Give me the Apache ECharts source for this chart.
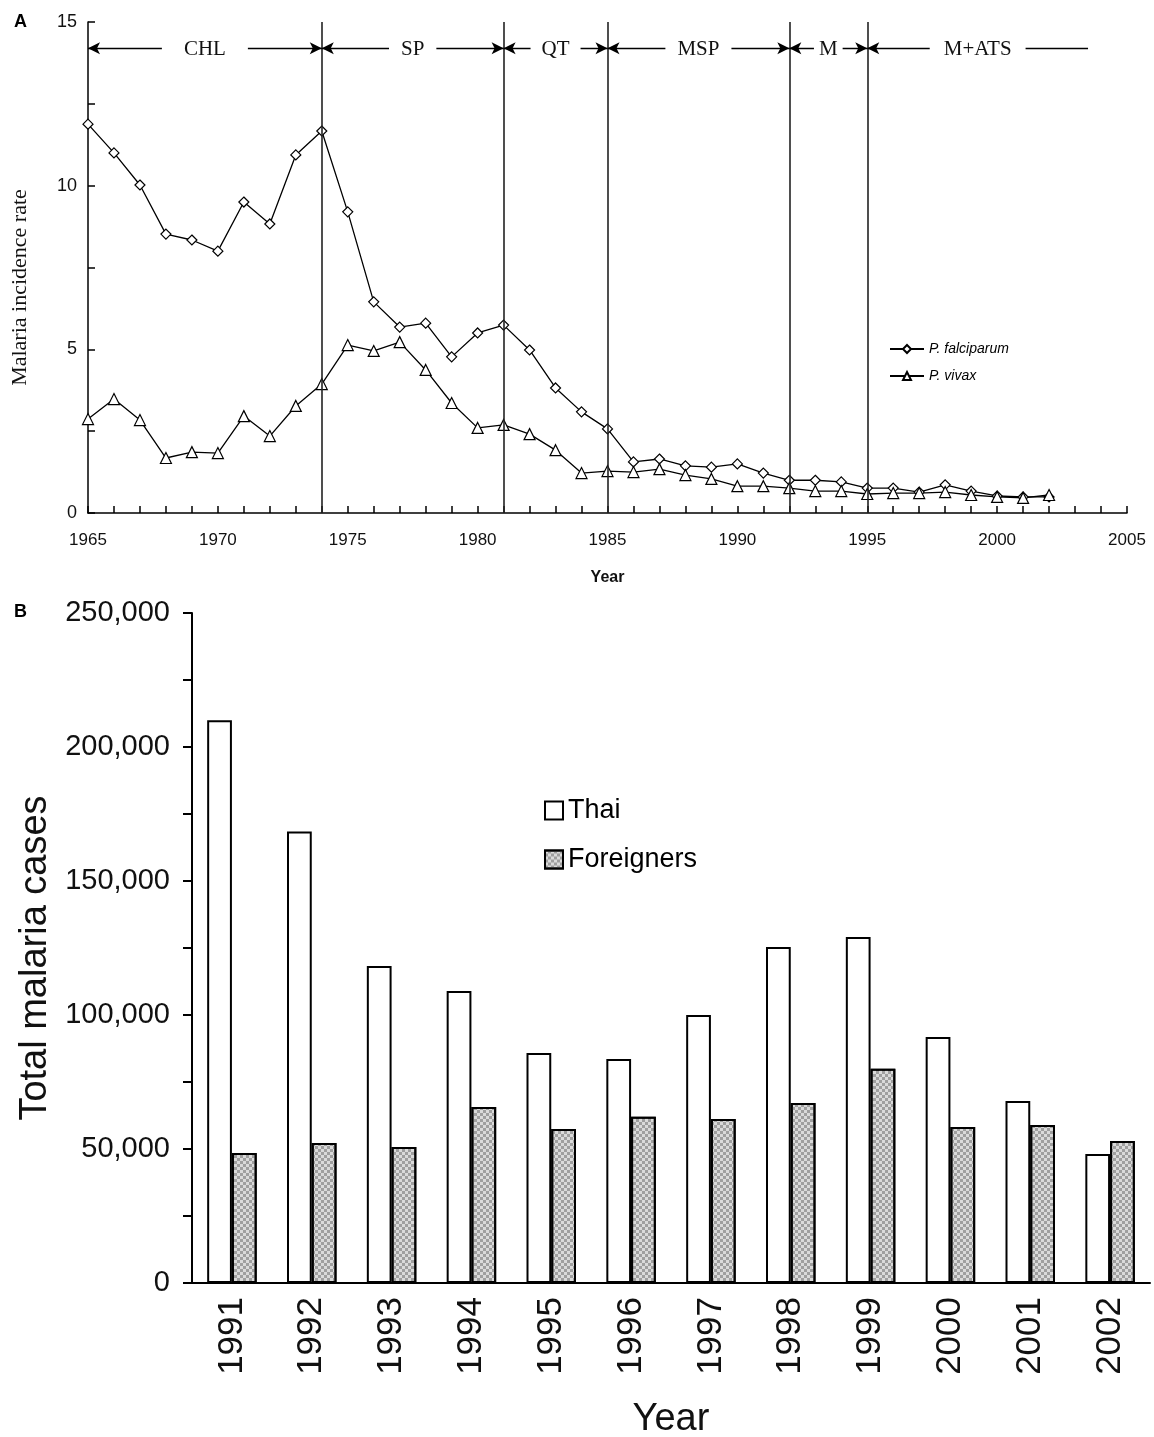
<!DOCTYPE html>
<html>
<head>
    <meta charset="utf-8">
    <title>Malaria incidence and total cases</title>
    <script src="https://cdn.jsdelivr.net/npm/echarts@6/dist/echarts.min.js"></script>
</head>
<body style="margin:0;background:#fff">
<div id="main" style="width:1154px;height:1437px;"></div>
<script type="text/javascript">
    // panel A data (incidence rate per year)
    var years = [1965,1966,1967,1968,1969,1970,1971,1972,1973,1974,1975,1976,1977,1978,1979,1980,1981,1982,1983,
        1984,1985,1986,1987,1988,1989,1990,1991,1992,1993,1994,1995,1996,1997,1998,1999,2000,2001,2002];
    var falciparum = [11.88,11.0,10.02,8.52,8.34,8.0,9.5,8.83,10.94,11.67,9.2,6.45,5.68,5.8,4.77,5.5,5.74,4.98,3.82,
        3.09,2.57,1.56,1.65,1.44,1.4,1.5,1.22,1.0,1.0,0.95,0.76,0.76,0.64,0.86,0.67,0.52,0.49,0.49];
    var vivax = [2.87,3.48,2.84,1.68,1.86,1.83,2.96,2.35,3.27,3.94,5.13,4.95,5.22,4.37,3.36,2.6,2.69,2.41,1.92,
        1.22,1.28,1.25,1.34,1.16,1.04,0.82,0.82,0.76,0.67,0.67,0.58,0.61,0.61,0.64,0.55,0.49,0.46,0.55];
    // drug policy periods
    var periodNames = ['CHL','SP','QT','MSP','M','M+ATS'];
    var periodStart = [1965,1974,1981,1985,1992,1995];
    var periodEnd = [1974,1981,1985,1992,1995,2003.5];
    var policyChanges = [1974,1981,1985,1992,1995];

    // panel B data (total cases)
    var caseYears = ['1991','1992','1993','1994','1995','1996','1997','1998','1999','2000','2001','2002'];
    var thai = [210000,168500,118300,109000,85800,83600,100000,125400,129100,91800,67900,48100];
    var foreigners = [48500,52200,50700,65700,57500,62000,61200,67200,79900,58200,59000,53000];

    var sans = 'Liberation Sans, Arial, sans-serif';
    var serif = 'Liberation Serif, Times New Roman, serif';
    var gapPad = [22, 12, 11, 12, 5, 14]; // white gap around each period label

    var myChart = echarts.init(document.getElementById('main'));

    var periodLines = periodNames.map(function (n, i) {
        var last = i === periodNames.length - 1;
        return [
            {coord: [periodStart[i], 14.2], name: n, symbol: 'arrow', label: {padding: [0, gapPad[i]]}},
            {coord: [periodEnd[i], 14.2], symbol: last ? 'none' : 'arrow'}
        ];
    });
    var changeLines = policyChanges.map(function (y) {
        return [{coord: [y, 0]}, {coord: [y, 15]}];
    });

    myChart.setOption({
        animation: false,
        title: [
            {text: 'A', left: 9, top: 8, textStyle: {fontFamily: sans, fontSize: 18, fontWeight: 'bold', color: '#000'}},
            {text: 'B', left: 9, top: 598, textStyle: {fontFamily: sans, fontSize: 18, fontWeight: 'bold', color: '#000'}}
        ],
        legend: [
            {
                data: ['P. falciparum', 'P. vivax'],
                orient: 'vertical', left: 884, top: 337, itemGap: 13,
                itemWidth: 34, itemHeight: 10,
                textStyle: {fontFamily: sans, fontSize: 14, fontStyle: 'italic', color: '#000'}
            },
            {
                data: ['Thai', 'Foreigners'],
                orient: 'vertical', left: 539, top: 792, itemGap: 22,
                itemWidth: 18, itemHeight: 18, icon: 'rect',
                textStyle: {fontFamily: sans, fontSize: 27, color: '#000'}
            }
        ],
        grid: [
            {left: 88, right: 27, top: 22, height: 491, outerBoundsMode: 'none'},
            {left: 192, right: 4, top: 613, height: 670, outerBoundsMode: 'none'}
        ],
        xAxis: [
            {
                gridIndex: 0, type: 'value', min: 1965, max: 2005, interval: 5,
                axisLine: {lineStyle: {color: '#000', width: 1.5}},
                axisTick: {inside: true, length: 7, lineStyle: {color: '#000', width: 1.5}},
                minorTick: {show: true, splitNumber: 5, length: 7, lineStyle: {color: '#000', width: 1.5}},
                splitLine: {show: false},
                axisLabel: {fontFamily: sans, fontSize: 17, color: '#111', margin: 19,
                    formatter: function (v) { return String(v); }},
                name: 'Year', nameLocation: 'middle', nameGap: 57,
                nameTextStyle: {fontFamily: sans, fontSize: 16, fontWeight: 'bold', color: '#111'}
            },
            {
                gridIndex: 1, type: 'category', data: caseYears,
                axisLine: {lineStyle: {color: '#000', width: 2}},
                axisTick: {length: 9, lineStyle: {color: '#000', width: 2}},
                axisLabel: {fontFamily: sans, fontSize: 35, color: '#111', rotate: 90, margin: 14},
                name: 'Year', nameLocation: 'middle', nameGap: 118,
                nameTextStyle: {fontFamily: sans, fontSize: 38, color: '#111'}
            }
        ],
        yAxis: [
            {
                gridIndex: 0, type: 'value', min: 0, max: 15, interval: 5,
                axisLine: {show: true, lineStyle: {color: '#000', width: 1.5}},
                axisTick: {show: true, inside: true, length: 7, lineStyle: {color: '#000', width: 1.5}},
                minorTick: {show: true, splitNumber: 2, length: 7, lineStyle: {color: '#000', width: 1.5}},
                splitLine: {show: false},
                axisLabel: {fontFamily: sans, fontSize: 18, color: '#111', margin: 11},
                name: 'Malaria incidence rate', nameLocation: 'middle', nameGap: 57,
                nameTextStyle: {fontFamily: serif, fontSize: 22, color: '#111', padding: [0, 40, 0, 0]}
            },
            {
                gridIndex: 1, type: 'value', min: 0, max: 250000, interval: 50000,
                axisLine: {show: true, lineStyle: {color: '#000', width: 2}},
                axisTick: {show: true, length: 9, lineStyle: {color: '#000', width: 2}},
                minorTick: {show: true, splitNumber: 2, length: 9, lineStyle: {color: '#000', width: 2}},
                splitLine: {show: false},
                axisLabel: {
                    fontFamily: sans, fontSize: 29, color: '#111', margin: 22,
                    formatter: function (v) { return v.toLocaleString('en-US'); }
                },
                name: 'Total malaria cases', nameLocation: 'middle', nameGap: 131,
                nameTextStyle: {fontFamily: sans, fontSize: 38, color: '#111', padding: [0, 20, 0, 0]}
            }
        ],
        series: [
            {
                name: 'P. falciparum', type: 'line', xAxisIndex: 0, yAxisIndex: 0,
                data: years.map(function (y, i) { return [y, falciparum[i]]; }),
                symbol: 'diamond', symbolSize: 10, showAllSymbol: true,
                lineStyle: {color: '#000', width: 1.3},
                itemStyle: {color: '#fff', borderColor: '#000', borderWidth: 1.2},
                z: 3,
                markLine: {
                    silent: true, symbol: 'none', animation: false,
                    lineStyle: {color: '#222', width: 1.6, type: 'solid'},
                    label: {show: false},
                    data: changeLines
                }
            },
            {
                name: 'P. vivax', type: 'line', xAxisIndex: 0, yAxisIndex: 0,
                data: years.map(function (y, i) { return [y, vivax[i]]; }),
                symbol: 'triangle', symbolSize: 11, showAllSymbol: true,
                lineStyle: {color: '#000', width: 1.3},
                itemStyle: {color: '#fff', borderColor: '#000', borderWidth: 1.2},
                z: 3,
                markLine: {
                    silent: true, animation: false,
                    symbolSize: [9, 12],
                    lineStyle: {color: '#000', width: 1.3, type: 'solid'},
                    label: {
                        show: true, position: 'middle', distance: -12,
                        formatter: '{b}', backgroundColor: '#fff', lineHeight: 22,
                        fontFamily: serif, fontSize: 21, color: '#111'
                    },
                    data: periodLines
                }
            },
            {
                name: 'Thai', type: 'bar', xAxisIndex: 1, yAxisIndex: 1,
                data: thai, barGap: '0%', barCategoryGap: '38%',
                itemStyle: {color: '#fff', borderColor: '#000', borderWidth: 2}
            },
            {
                name: 'Foreigners', type: 'bar', xAxisIndex: 1, yAxisIndex: 1,
                data: foreigners, barGap: '0%', barCategoryGap: '38%',
                itemStyle: {
                    color: '#dadada', borderColor: '#000', borderWidth: 2,
                    decal: {
                        symbol: 'rect', symbolSize: 1,
                        dashArrayX: [[3, 3], [0, 3, 3, 0]], dashArrayY: [3, 0],
                        color: 'rgba(120,120,120,0.6)'
                    }
                }
            }
        ]
    });
</script>
</body>
</html>
